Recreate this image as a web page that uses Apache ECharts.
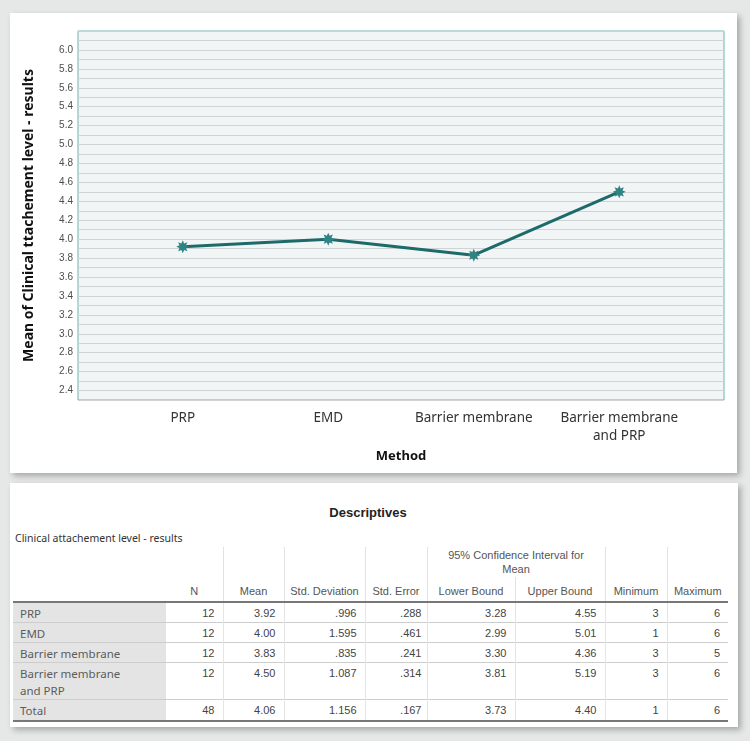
<!DOCTYPE html>
<html>
<head>
<meta charset="utf-8">
<script src="https://cdn.jsdelivr.net/npm/echarts/dist/echarts.min.js"></script>
<style>
html,body{margin:0;padding:0;width:750px;height:741px;overflow:hidden;background:#e6e7e7;}
.card{position:absolute;background:#fff;box-shadow:3px 3px 6px rgba(0,0,0,0.28);z-index:1;}
#card1{left:10px;top:13px;width:727px;height:460px;}
#card2{left:10px;top:483px;width:728px;height:244px;}
#chart{position:absolute;left:0;top:0;width:750px;height:480px;z-index:2;}
#ttl{position:absolute;left:0;top:505px;width:736px;text-align:center;font:bold 13px "Liberation Sans",Arial,sans-serif;line-height:16px;color:#222;z-index:3;}
#sub{position:absolute;left:15px;top:530px;font:10.5px "Noto Sans",sans-serif;line-height:16px;color:#333;z-index:3;}
table{position:absolute;left:13px;top:547px;width:715px;border-collapse:collapse;table-layout:fixed;font:11px "Liberation Sans",Arial,sans-serif;color:#444;z-index:3;}
th{font-weight:normal;color:#555;vertical-align:bottom;text-align:center;padding:0 2px 3px 2px;line-height:14px;border-left:1px solid #e2e2e2;}
th.nb{border-left:none;}
td{text-align:right;padding:2px 8px 0 0;line-height:17px;vertical-align:top;border-left:1px solid #e4e4e4;border-top:1px solid #cdcdcd;background:#fff;}
td.lbl{text-align:left;padding-left:7px;background:#e4e4e4;border-left:none;font:11.5px "Noto Sans",sans-serif;line-height:17px;color:#5c5c5c;}
td.n{border-left:none;}
tr.first td{border-top:2px solid #777;}
tr.last td{border-bottom:2px solid #777;}
</style>
</head>
<body>
<div class="card" id="card1"></div>
<div class="card" id="card2"></div>
<div id="chart"></div>
<div id="ttl">Descriptives</div>
<div id="sub">Clinical attachement level - results</div>
<table id="tbl"></table>
<script>
// ---- chart data ----
const xCategories = ['PRP', 'EMD', 'Barrier membrane', 'Barrier membrane\nand PRP'];
const meanValues = [3.92, 4.00, 3.83, 4.50];
const yTickLabels = ['2.4','2.6','2.8','3.0','3.2','3.4','3.6','3.8','4.0','4.2','4.4','4.6','4.8','5.0','5.2','5.4','5.6','5.8','6.0'];

// ---- table data ----
const rowLabels = ['PRP', 'EMD', 'Barrier membrane', 'Barrier membrane<br>and PRP', 'Total'];
const nCol = ['12', '12', '12', '12', '48'];
const meanCol = ['3.92', '4.00', '3.83', '4.50', '4.06'];
const sdCol = ['.996', '1.595', '.835', '1.087', '1.156'];
const seCol = ['.288', '.461', '.241', '.314', '.167'];
const lowerCol = ['3.28', '2.99', '3.30', '3.81', '3.73'];
const upperCol = ['4.55', '5.01', '4.36', '5.19', '4.40'];
const minCol = ['3', '1', '3', '3', '1'];
const maxCol = ['6', '6', '5', '6', '6'];
const rowHeights = [19, 20, 20, 34, 21];

// build table
const colW = [153, 57, 61, 81, 62, 88, 90, 62, 61];
let html = '<colgroup>' + colW.map(w => '<col style="width:' + w + 'px">').join('') + '</colgroup>';
html += '<tr style="height:30px"><th class="nb" rowspan="2"></th><th class="nb" rowspan="2">N</th><th rowspan="2">Mean</th><th rowspan="2">Std. Deviation</th><th rowspan="2">Std. Error</th><th colspan="2" style="padding-bottom:1px">95% Confidence Interval for<br>Mean</th><th rowspan="2">Minimum</th><th rowspan="2">Maximum</th></tr>';
html += '<tr style="height:25px"><th>Lower Bound</th><th>Upper Bound</th></tr>';
for (let i = 0; i < rowLabels.length; i++) {
  const cls = i === 0 ? 'first' : (i === rowLabels.length - 1 ? 'last' : '');
  html += '<tr class="' + cls + '" style="height:' + rowHeights[i] + 'px">' +
    '<td class="lbl">' + rowLabels[i] + '</td>' +
    '<td class="n">' + nCol[i] + '</td>' +
    '<td>' + meanCol[i] + '</td>' +
    '<td>' + sdCol[i] + '</td>' +
    '<td style="padding-right:5px">' + seCol[i] + '</td>' +
    '<td>' + lowerCol[i] + '</td>' +
    '<td>' + upperCol[i] + '</td>' +
    '<td>' + minCol[i] + '</td>' +
    '<td>' + maxCol[i] + '</td></tr>';
}
document.getElementById('tbl').innerHTML = html;

// chart
const chart = echarts.init(document.getElementById('chart'), null, {renderer: 'canvas'});
const starPath = 'path://M10 0L12.1 4.92L17.07 2.93L15.08 7.9L20 10L15.08 12.1L17.07 17.07L12.1 15.08L10 20L7.9 15.08L2.93 17.07L4.92 12.1L0 10L4.92 7.9L2.93 2.93L7.9 4.92Z';
chart.setOption({
  animation: false,
  grid: [
    {left: 78, top: 31, width: 646, height: 369, show: true, backgroundColor: '#f2f5f5', borderColor: '#6fb2b2', borderWidth: 1},
    {left: 110, top: 31, width: 582, height: 369}
  ],
  xAxis: [
    {gridIndex: 0, type: 'value', min: 0, max: 1, show: false},
    {gridIndex: 1, type: 'category', data: xCategories, boundaryGap: true,
     axisLine: {show: false}, axisTick: {show: false}, splitLine: {show: false},
     axisLabel: {interval: 0, margin: 9, fontSize: 13.5, fontFamily: 'Noto Sans', color: '#333', lineHeight: 18},
     name: 'Method', nameLocation: 'middle', nameGap: 46,
     nameTextStyle: {fontWeight: 'bold', fontSize: 13, fontFamily: 'Noto Sans', color: '#111'}}
  ],
  yAxis: [
    {gridIndex: 0, type: 'value', min: 2.3, max: 6.2, interval: 0.1,
     axisLine: {show: false}, axisTick: {show: false},
     splitLine: {show: true, lineStyle: {color: '#cfd3d3', width: 1}},
     axisLabel: {margin: 5, fontSize: 10, fontFamily: 'Liberation Sans', color: '#4d4d4d',
       formatter: function (v) { const s = (Math.round(v * 10) / 10).toFixed(1); return yTickLabels.indexOf(s) >= 0 ? s : ''; }},
     name: 'Mean of Clinical ttachement level - results', nameLocation: 'middle', nameRotate: 90, nameGap: 42,
     nameTextStyle: {fontWeight: 'bold', fontSize: 14, fontFamily: 'Noto Sans', color: '#111'}},
    {gridIndex: 1, type: 'value', min: 2.3, max: 6.2, show: false, splitLine: {show: false}}
  ],
  series: [{
    type: 'line', xAxisIndex: 1, yAxisIndex: 1, data: meanValues,
    symbol: starPath, symbolSize: 13,
    lineStyle: {color: '#1d6a6a', width: 3},
    itemStyle: {color: '#2f8383'}
  }]
});
</script>
</body>
</html>
